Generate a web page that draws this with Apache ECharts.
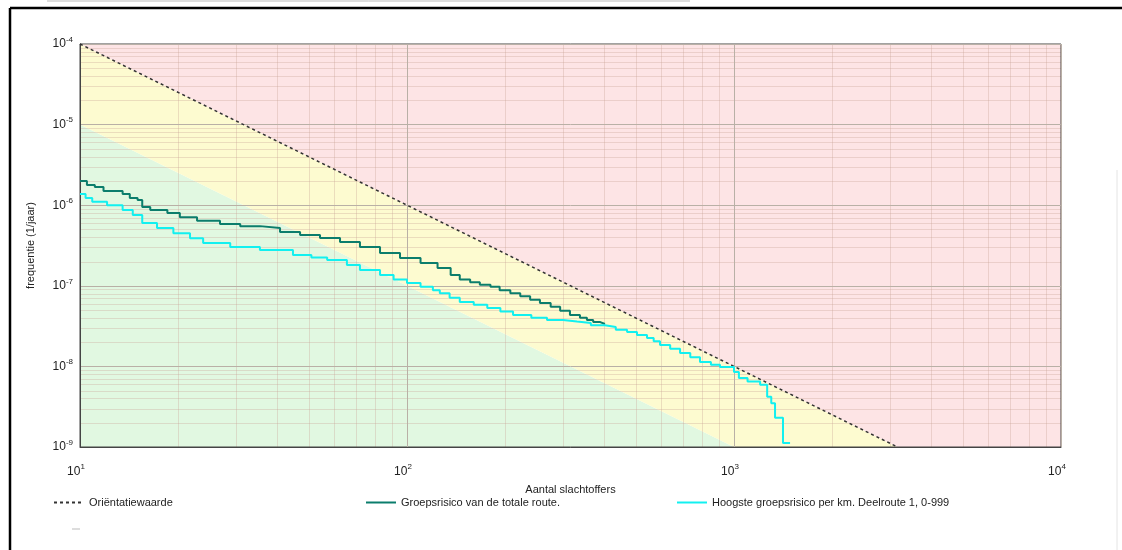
<!DOCTYPE html>
<html>
<head>
<meta charset="utf-8">
<script src="https://cdn.jsdelivr.net/npm/echarts@6/dist/echarts.min.js"></script>
<style>
  html, body { margin: 0; padding: 0; background: #fff; }
  #fn { width: 1122px; height: 550px; }
</style>
</head>
<body>
<div id="fn"></div>
<script>
// Assen (log-log)
const xRange = [10, 10000];
const yRange = [1e-9, 1e-4];

// Orientatiewaarde: 1e-2 / N^2
const owLine = [[10, 1e-4], [3162, 1e-9]];

// Gekleurde zones
const redZone = [[10, 1e-4], [10000, 1e-4], [10000, 1e-9], [3162, 1e-9]];
const yellowZone = [[10, 1e-4], [3162, 1e-9], [1000, 1e-9], [10, 1e-5]];
const greenZone = [[10, 1e-5], [1000, 1e-9], [10, 1e-9]];

const totalRoute = [
    [10, 2.0e-6], [10.5, 1.78e-6], [11.1, 1.68e-6], [11.8, 1.5e-6], [13.5, 1.38e-6],
    [14.2, 1.23e-6], [15.0, 1.16e-6], [15.5, 9.5e-7], [16.4, 8.7e-7], [18.5, 8.0e-7],
    [20.2, 7.1e-7], [22.8, 6.4e-7], [26.8, 5.85e-7], [30.9, 5.5e-7], [35.5, 5.2e-7],
    [40.9, 4.65e-7], [47.1, 4.27e-7], [54.2, 3.92e-7], [62.4, 3.49e-7], [71.8, 3.03e-7],
    [82.7, 2.55e-7], [95.2, 2.21e-7], [110, 1.92e-7], [124, 1.66e-7], [136, 1.36e-7],
    [145, 1.2e-7], [156, 1.11e-7], [167, 1.03e-7], [180, 9.7e-8], [192, 8.8e-8],
    [207, 8.1e-8], [222, 7.4e-8], [238, 6.7e-8], [255, 6.1e-8], [275, 5.5e-8],
    [294, 4.9e-8], [315, 4.35e-8], [338, 4.0e-8], [355, 3.77e-8], [371, 3.55e-8],
    [390, 3.36e-8], [403, 3.36e-8]
];

const maxPerKm = [
    [10, 1.38e-6], [10.4, 1.23e-6], [10.9, 1.1e-6], [12.1, 1.0e-6], [13.5, 8.7e-7],
    [14.5, 7.55e-7], [15.5, 6.0e-7], [17.2, 5.2e-7], [19.3, 4.5e-7], [21.7, 3.9e-7],
    [23.8, 3.4e-7], [28.8, 3.03e-7], [35.5, 2.78e-7], [44.8, 2.41e-7], [51, 2.25e-7],
    [57, 2.09e-7], [65.5, 1.81e-7], [71.8, 1.57e-7], [82.7, 1.36e-7], [91, 1.2e-7],
    [100, 1.08e-7], [110, 9.7e-8], [120, 8.8e-8], [126, 8.1e-8], [135, 7.1e-8],
    [145, 6.3e-8], [160, 5.8e-8], [176, 5.3e-8], [193, 4.8e-8], [211, 4.35e-8],
    [240, 4.0e-8], [268, 3.77e-8], [300, 3.6e-8], [331, 3.45e-8], [365, 3.25e-8],
    [403, 3.08e-8], [435, 2.85e-8], [471, 2.67e-8], [505, 2.45e-8], [542, 2.25e-8],
    [568, 2.05e-8], [594, 1.84e-8], [638, 1.65e-8], [684, 1.47e-8], [735, 1.3e-8],
    [787, 1.13e-8], [850, 1.05e-8], [906, 9.8e-9], [1000, 8.5e-9], [1035, 7.2e-9],
    [1100, 6.5e-9], [1202, 5.9e-9], [1263, 4.2e-9], [1300, 3.5e-9], [1335, 2.3e-9],
    [1412, 1.12e-9], [1484, 1.12e-9]
];

const seriesNames = ['Oriëntatiewaarde', 'Groepsrisico van de totale route.', 'Hoogste groepsrisico per km. Deelroute 1, 0-999'];

// hulplijnen tussen de decaden (2..9)
const minorX = [];
for (let d = 10; d < 10000; d *= 10) for (let m = 2; m <= 9; m++) minorX.push(m * d);
const minorY = [];
for (let e = -9; e < -4; e++) for (let m = 2; m <= 9; m++) minorY.push(m * Math.pow(10, e));

const font = "'Liberation Sans', Arial, sans-serif";

function zoneSeries(points, color) {
    return {
        type: 'custom',
        silent: true,
        z: 1,
        data: points,
        renderItem: function (params, api) {
            if (params.dataIndex !== 0) return;
            return {
                type: 'polygon',
                shape: { points: points.map(p => api.coord(p)) },
                style: { fill: color }
            };
        }
    };
}

// dunne rasterlijnen, per waarde een lijn over het hele plotvlak
function minorGrid(values, dim) {
    return {
        type: 'custom',
        silent: true,
        z: 2,
        data: values.map(v => dim === 'x' ? [v, yRange[0]] : [xRange[0], v]),
        renderItem: function (params, api) {
            const v = api.value(dim === 'x' ? 0 : 1);
            const a = dim === 'x' ? api.coord([v, yRange[0]]) : api.coord([xRange[0], v]);
            const b = dim === 'x' ? api.coord([v, yRange[1]]) : api.coord([xRange[1], v]);
            return {
                type: 'line',
                shape: { x1: Math.round(a[0]) + 0.5, y1: Math.round(a[1]) + 0.5, x2: Math.round(b[0]) + 0.5, y2: Math.round(b[1]) + 0.5 },
                style: { stroke: 'rgba(200,160,150,0.33)', lineWidth: 1 }
            };
        }
    };
}

function powLabel(v) {
    const e = Math.round(Math.log10(v));
    return '{b|10}{s|' + e + '}';
}

const richLabel = {
    b: { fontSize: 12, fontFamily: font, color: '#222' },
    s: { fontSize: 8, fontFamily: font, color: '#222', padding: [0, 0, 9, 0] }
};

const chart = echarts.init(document.getElementById('fn'));

chart.setOption({
    animation: false,
    textStyle: { fontFamily: font },
    grid: {
        left: 80, top: 44, right: 61, bottom: 103,
        show: true, z: 10, backgroundColor: 'transparent',
        borderColor: '#444', borderWidth: 1
    },
    graphic: [
        { type: 'line', shape: { x1: 47, y1: 1, x2: 690, y2: 1 }, style: { stroke: '#bbb', lineWidth: 1 } },
        { type: 'line', shape: { x1: 10, y1: 8, x2: 1122, y2: 8 }, style: { stroke: '#000', lineWidth: 2.5 } },
        { type: 'line', shape: { x1: 10, y1: 8, x2: 10, y2: 550 }, style: { stroke: '#000', lineWidth: 2.5 } },
        { type: 'line', shape: { x1: 1117, y1: 170, x2: 1117, y2: 550 }, style: { stroke: '#e4e4e4', lineWidth: 1 } },
        { type: 'line', shape: { x1: 72, y1: 529, x2: 80, y2: 529 }, style: { stroke: '#bbb', lineWidth: 1 } }
    ],
    legend: [
        { data: [seriesNames[0]], left: 53, top: 497 },
        { data: [seriesNames[1]], left: 365, top: 497 },
        { data: [seriesNames[2]], left: 676, top: 497 }
    ].map(l => Object.assign(l, {
        padding: 0,
        itemWidth: 30, itemHeight: 12,
        itemStyle: { opacity: 0 },
        textStyle: { fontSize: 11, color: '#222', fontFamily: font }
    })),
    xAxis: {
        type: 'log', logBase: 10, min: xRange[0], max: xRange[1], z: 10,
        name: 'Aantal slachtoffers', nameLocation: 'middle', nameGap: 37,
        nameTextStyle: { fontSize: 11, color: '#222', fontFamily: font },
        axisLine: { show: true, lineStyle: { color: '#444', width: 1 } },
        axisTick: { show: false },
        splitLine: { show: true, lineStyle: { color: '#b9b0a6', width: 1 } },
        axisLabel: { margin: 16, formatter: powLabel, rich: richLabel, padding: [0, 8, 0, 0] }
    },
    yAxis: {
        type: 'log', logBase: 10, min: yRange[0], max: yRange[1], z: 10,
        name: 'frequentie (1/jaar)', nameLocation: 'middle', nameGap: 44, nameRotate: 90,
        nameTextStyle: { fontSize: 11, color: '#222', fontFamily: font },
        axisLine: { show: true, lineStyle: { color: '#444', width: 1 } },
        axisTick: { show: false },
        splitLine: { show: true, lineStyle: { color: '#b9b0a6', width: 1 } },
        axisLabel: { margin: 7, formatter: powLabel, rich: richLabel }
    },
    series: [
        zoneSeries(greenZone, '#e1f8e1'),
        zoneSeries(yellowZone, '#fdfbd0'),
        zoneSeries(redZone, '#fde4e5'),
        minorGrid(minorX, 'x'),
        minorGrid(minorY, 'y'),
        {
            name: seriesNames[0], type: 'line', data: owLine, z: 20,
            symbol: 'none', silent: true,
            lineStyle: { color: '#333', width: 1.5, type: [3, 3] }
        },
        {
            name: seriesNames[1], type: 'line', data: totalRoute, step: 'end', z: 21,
            symbol: 'none', silent: true,
            lineStyle: { color: '#0b7d6c', width: 2 }, itemStyle: { color: '#0b7d6c' }
        },
        {
            name: seriesNames[2], type: 'line', data: maxPerKm, step: 'end', z: 22,
            symbol: 'none', silent: true,
            lineStyle: { color: '#12f0f0', width: 2 }, itemStyle: { color: '#12f0f0' }
        }
    ]
});
</script>
</body>
</html>
